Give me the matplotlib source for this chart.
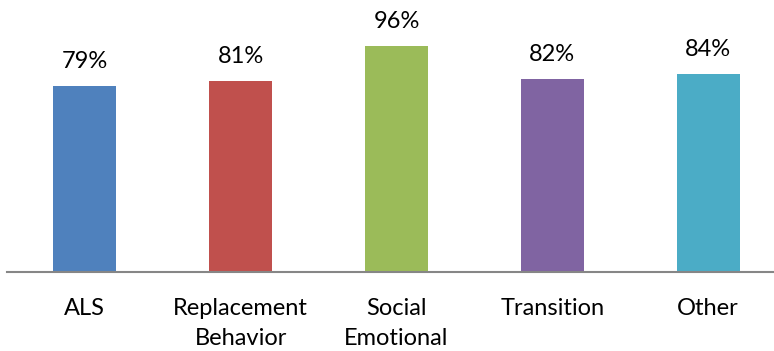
import matplotlib.pyplot as plt

categories = ["ALS", "Replacement\nBehavior", "Social\nEmotional", "Transition", "Other"]
values = [79, 81, 96, 82, 84]
colors = ["#4F81BD", "#C0504D", "#9BBB59", "#8064A2", "#4BACC6"]

plt.rcParams["font.family"] = ["Lato", "DejaVu Sans"]

fig = plt.figure(figsize=(7.74, 3.51), dpi=100)
# the axis runs past the right edge of the picture, as in the original
ax = fig.add_axes([7 / 774, 79 / 351, 779 / 774, 272 / 351])

x = range(len(categories))
bars = ax.bar(x, values, width=0.405, color=colors)

for b, v in zip(bars, values):
    ax.text(b.get_x() + b.get_width() / 2, v + 6, f"{v}%",
            ha="center", va="bottom", fontsize=17, color="#000000")

ax.set_xlim(-0.5, len(categories) - 0.5)
ax.set_ylim(0, 115.5)
ax.set_xticks(list(x))
ax.set_xticklabels(categories, fontsize=17, linespacing=1.5, va="top")
ax.tick_params(axis="x", length=0, pad=19)
ax.set_yticks([])

for s in ["top", "right", "left"]:
    ax.spines[s].set_visible(False)
ax.spines["bottom"].set_color("#868686")
ax.spines["bottom"].set_linewidth(1.5)

fig.savefig("out.png", dpi=100)
